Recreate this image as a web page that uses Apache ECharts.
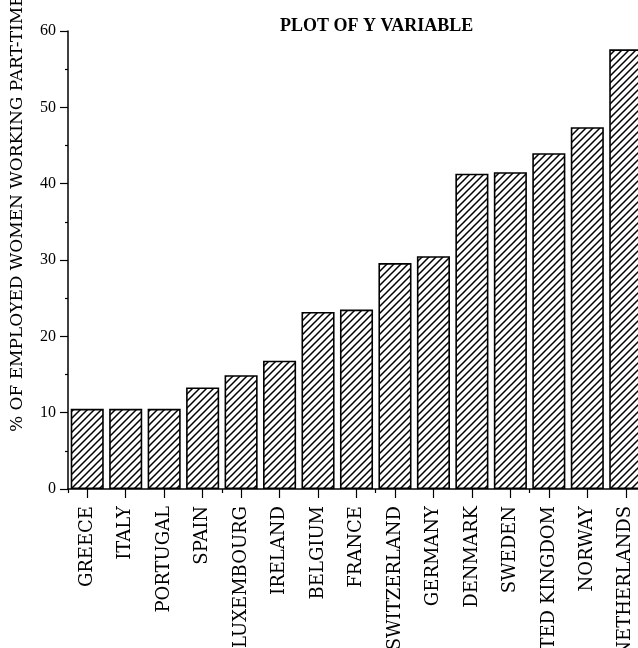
<!DOCTYPE html>
<html>
<head>
<meta charset="utf-8">
<script src="https://cdn.jsdelivr.net/npm/echarts@6/dist/echarts.min.js"></script>
<style>
  html, body { margin: 0; padding: 0; background: #fff; }
  #chart { width: 638px; height: 648px; }
</style>
</head>
<body>
<div id="chart"></div>
<script>
// data
var countries = ["GREECE", "ITALY", "PORTUGAL", "SPAIN", "LUXEMBOURG", "IRELAND", "BELGIUM", "FRANCE",
  "SWITZERLAND", "GERMANY", "DENMARK", "SWEDEN", "UNITED KINGDOM", "NORWAY", "NETHERLANDS"];
var partTime = [10.5, 10.5, 10.5, 13.3, 14.9, 16.8, 23.2, 23.5, 29.6, 30.5, 41.3, 41.5, 44.0, 47.4, 57.6];
var yTicks = [0, 10, 20, 30, 40, 50, 60];

var titleText = "PLOT OF Y VARIABLE";
var yName = "% OF EMPLOYED WOMEN WORKING PART-TIME";

// diagonal hatch fill for the bars
function hatch() {
  var c = document.createElement("canvas");
  c.width = 7;
  c.height = 7;
  var ctx = c.getContext("2d");
  ctx.fillStyle = "#fff";
  ctx.fillRect(0, 0, 7, 7);
  ctx.strokeStyle = "#000";
  ctx.lineWidth = 1.5;
  ctx.beginPath();
  ctx.moveTo(-1, 8); ctx.lineTo(8, -1);
  ctx.moveTo(-1, 1); ctx.lineTo(1, -1);
  ctx.moveTo(6, 8); ctx.lineTo(8, 6);
  ctx.stroke();
  return c;
}

var myChart = echarts.init(document.getElementById("chart"));
myChart.setOption({
  animation: false,
  backgroundColor: "#fff",
  title: {
    text: titleText,
    left: 275,
    top: 12,
    textStyle: { fontFamily: "Liberation Serif", fontWeight: "bold", fontSize: 18, color: "#000" }
  },
  graphic: [
    {
      type: "text",
      x: 18,
      y: 432,
      rotation: Math.PI / 2,
      style: {
        text: yName,
        font: "17px 'DejaVu Serif'",
        fill: "#000",
        textAlign: "left",
        textVerticalAlign: "middle"
      }
    }
  ],
  // plot area runs off the right edge like the original
  grid: { left: 68, top: 31, bottom: 159, width: 577, containLabel: false, outerBoundsMode: "none" },
  xAxis: [
    {
      type: "category",
      data: countries,
      axisLine: { show: true, lineStyle: { color: "#000", width: 1.5 } },
      axisTick: { show: true, alignWithLabel: true, length: 9, lineStyle: { color: "#000", width: 1.2 } },
      axisLabel: {
        rotate: 90,
        margin: 17,
        interval: 0,
        color: "#000",
        fontFamily: "DejaVu Serif",
        fontSize: 18
      }
    },
    {
      // short ticks between the bars
      type: "category",
      data: countries,
      position: "bottom",
      axisLine: { show: false },
      axisTick: { show: true, length: 4, lineStyle: { color: "#000", width: 1.2 } },
      axisLabel: { show: false }
    }
  ],
  yAxis: {
    type: "value",
    min: yTicks[0],
    max: yTicks[yTicks.length - 1],
    interval: yTicks[1] - yTicks[0],
    axisLine: { show: true, lineStyle: { color: "#000", width: 1.5 } },
    axisTick: { show: true, length: 8, lineStyle: { color: "#000", width: 1.2 } },
    minorTick: { show: true, splitNumber: 2, length: 3, lineStyle: { color: "#000", width: 1.2 } },
    splitLine: { show: false },
    axisLabel: { margin: 12, color: "#000", fontFamily: "Liberation Serif", fontSize: 16 }
  },
  series: [
    {
      type: "bar",
      data: partTime,
      barCategoryGap: "14%",
      itemStyle: {
        color: { image: hatch(), repeat: "repeat" },
        borderColor: "#000",
        borderWidth: 1.6
      }
    }
  ]
});
</script>
</body>
</html>
